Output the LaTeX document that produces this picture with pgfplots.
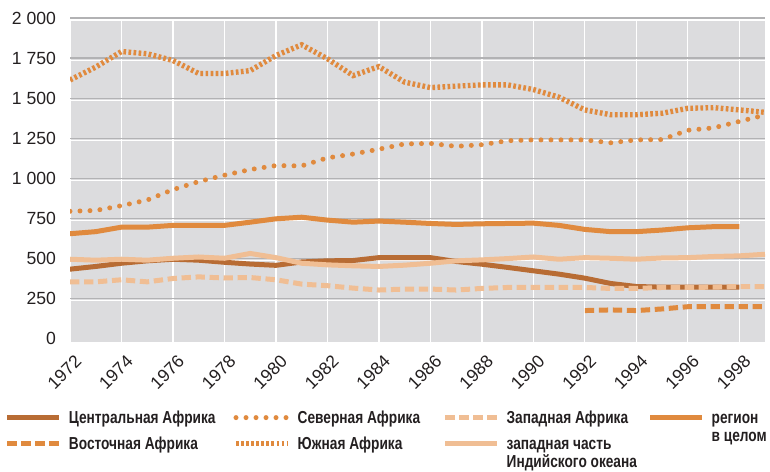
\documentclass[border=0pt]{standalone}
\usepackage{pgfplots}
\pgfplotsset{compat=1.18}
\usepackage{fontspec}
\setmainfont{Liberation Sans}
\newfontfamily\legfont{Liberation Sans}[FakeStretch=0.79]
\definecolor{bg}{RGB}{220,220,222}
\definecolor{gridgray}{RGB}{178,178,180}
\definecolor{cdark}{RGB}{184,108,52}
\definecolor{cmid}{RGB}{224,138,62}
\definecolor{clight}{RGB}{240,190,148}
\definecolor{txt}{RGB}{35,31,32}
\newcommand{\two}[2]{\begin{tabular}[t]{@{}l@{}}#1\\#2\end{tabular}}
\begin{document}
\begin{tikzpicture}
\useasboundingbox (-52.5pt,-96.75pt) rectangle (525pt,256.5pt);
\begin{axis}[
  at={(0,0)}, anchor=south west,
  scale only axis, width=521.25pt, height=243pt,
  xmin=1972, xmax=1999, ymin=-20, ymax=2000,
  axis background/.style={fill=bg},
  axis line style={draw=none},
  major tick length=0pt, minor tick length=0pt,
  tick style={draw=none},
  /pgf/number format/assume math mode=true,
  /pgf/number format/1000 sep={},
  xtick={1972,1974,...,1998},
  ytick={250,500,...,2000},
  yticklabels={250,500,750,1 000,1 250,1 500,1 750,2 000},
  extra y ticks={0}, extra y tick labels={0},
  extra y tick style={grid=none},
  minor ytick={237.5,487.5,737.5,987.5,1237.5,1487.5,1737.5,1987.5},
  xmajorgrids, ymajorgrids, yminorgrids,
  major x grid style={white, line width=1pt},
  major y grid style={gridgray, line width=0.9pt},
  minor y grid style={white, line width=0.9pt},
  yticklabel style={font=\fontsize{13.2}{15}\selectfont, text=txt, xshift=-7pt},
  xticklabel style={font=\fontsize{13.2}{15}\selectfont, text=txt, rotate=45, anchor=north east, yshift=-5pt, xshift=-1pt},
  every plot/.append style={smooth, tension=0.45},
  legend columns=4,
  legend cell align=left,
  legend image code/.code={\draw[#1] (0pt,1.25pt) -- (39pt,1.25pt);},
  legend style={at={(axis description cs:0,0)}, anchor=north west,
    xshift=-49pt, yshift=-51pt, draw=none, fill=none, inner sep=0pt,
    column sep=0pt, row sep=6pt,
    nodes={inner sep=0pt, text height=10pt, text depth=3.5pt,
      font=\legfont\bfseries\fontsize{13}{13.3}\selectfont, text=txt}},
]
% Центральная Африка
\addplot[cdark, line width=3.75pt] coordinates {
(1972,434)(1973,451)(1974,471)(1975,486)(1976,496)(1977,490)(1978,477)(1979,466)
(1980,458)(1981,479)(1982,486)(1983,488)(1984,506)(1985,506)(1986,506)(1987,482)
(1988,465)(1989,445)(1990,424)(1991,403)(1992,378)(1993,345)(1994,326)(1995,322)
(1996,322)(1997,322)(1998,322)};
\addlegendentry{\hspace{5.25pt}\makebox[123.3pt][l]{Центральная Африка}}
% Северная Африка
\addplot[cmid, line width=3.75pt, line cap=round, dash pattern=on 0pt off 7.5pt] coordinates {
(1972,795)(1973,800)(1974,830)(1975,865)(1976,930)(1977,980)(1978,1020)(1979,1055)
(1980,1080)(1981,1078)(1982,1128)(1983,1152)(1984,1182)(1985,1215)(1986,1218)(1987,1200)
(1988,1210)(1989,1235)(1990,1240)(1991,1240)(1992,1240)(1993,1222)(1994,1240)(1995,1242)
(1996,1300)(1997,1315)(1998,1355)(1999,1395)};
\addlegendentry{\hspace{5.25pt}\makebox[108.75pt][l]{Северная Африка}}
% Западная Африка
\addplot[clight, line width=3.75pt, dash pattern=on 7pt off 3.5pt] coordinates {
(1972,355)(1973,355)(1974,368)(1975,355)(1976,376)(1977,386)(1978,379)(1979,382)
(1980,368)(1981,341)(1982,331)(1983,316)(1984,304)(1985,310)(1986,310)(1987,304)
(1988,314)(1989,320)(1990,320)(1991,320)(1992,320)(1993,314)(1994,314)(1995,320)
(1996,320)(1997,322)(1998,326)(1999,326)};
\addlegendentry{\hspace{5.25pt}\makebox[105.75pt][l]{Западная Африка}}
% регион в целом
\addplot[cmid, line width=3.75pt] coordinates {
(1972,655)(1973,668)(1974,696)(1975,696)(1976,707)(1977,707)(1978,707)(1979,727)
(1980,748)(1981,758)(1982,740)(1983,727)(1984,734)(1985,727)(1986,719)(1987,713)
(1988,717)(1989,719)(1990,721)(1991,707)(1992,682)(1993,668)(1994,668)(1995,678)
(1996,692)(1997,699)(1998,699)};
\addlegendentry{\hspace{5.25pt}\two{регион}{в целом}}
% Восточная Африка
\addplot[cmid, line width=3.75pt, dash pattern=on 7pt off 3.5pt] coordinates {
(1992,176)(1993,180)(1994,176)(1995,186)(1996,200)(1997,200)(1998,200)(1999,200)};
\addlegendentry{\hspace{5.25pt}Восточная Африка}
% Южная Африка
\addplot[cmid, line width=4pt, dash pattern=on 2pt off 1.8pt] coordinates {
(1972,1614)(1973,1694)(1974,1791)(1975,1777)(1976,1735)(1977,1654)(1978,1654)(1979,1672)
(1980,1766)(1981,1833)(1982,1746)(1983,1641)(1984,1697)(1985,1600)(1986,1566)(1987,1575)
(1988,1583)(1989,1583)(1990,1554)(1991,1506)(1992,1427)(1993,1397)(1994,1397)(1995,1406)
(1996,1437)(1997,1441)(1998,1427)(1999,1412)};
\addlegendentry{\hspace{5.25pt}Южная Африка}
% западная часть Индийского океана
\addplot[clight, line width=3.75pt] coordinates {
(1972,496)(1973,490)(1974,496)(1975,490)(1976,502)(1977,510)(1978,502)(1979,532)
(1980,506)(1981,471)(1982,461)(1983,455)(1984,451)(1985,459)(1986,471)(1987,486)
(1988,492)(1989,500)(1990,510)(1991,496)(1992,506)(1993,502)(1994,496)(1995,504)
(1996,506)(1997,513)(1998,517)(1999,527)};
\addlegendentry{\hspace{5.25pt}\two{западная часть}{Индийского океана}}
\end{axis}
\end{tikzpicture}
\end{document}
